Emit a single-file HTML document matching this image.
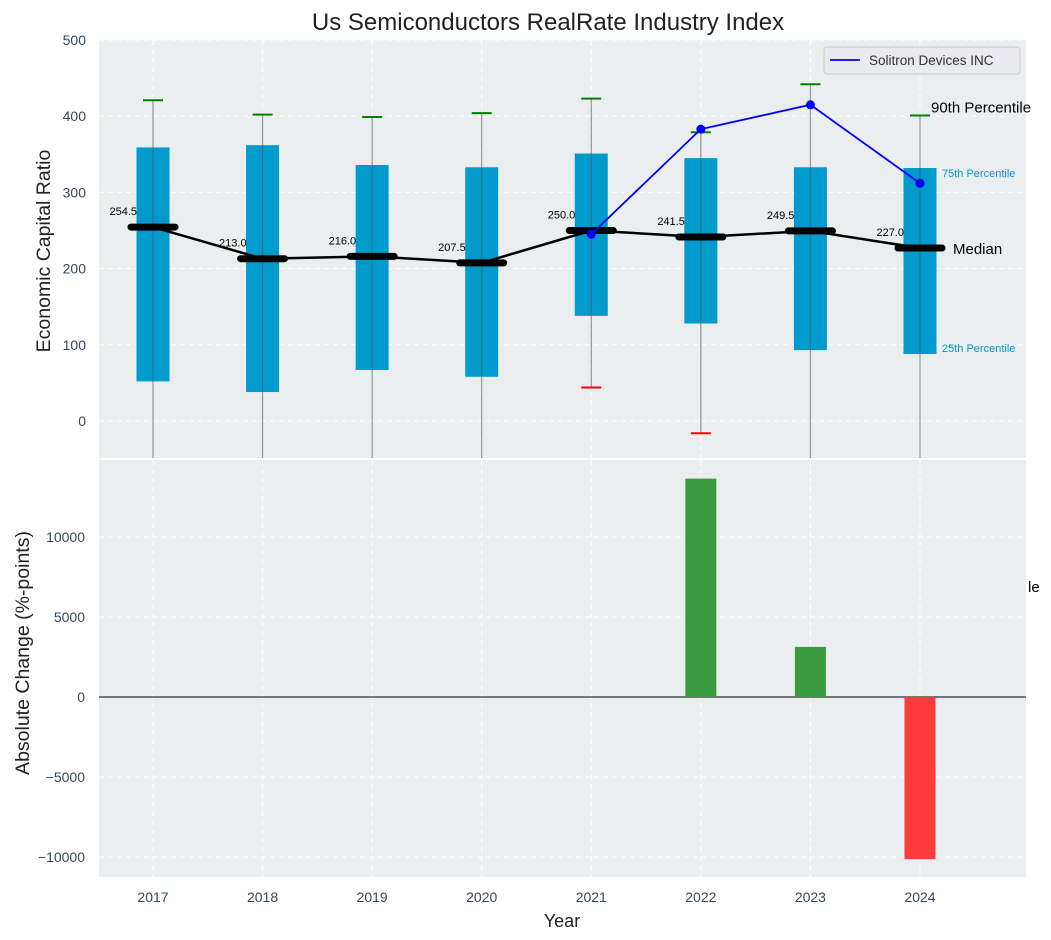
<!DOCTYPE html>
<html><head><meta charset="utf-8"><style>
body{margin:0;background:#fff;}
svg{display:block;font-family:"Liberation Sans",sans-serif;}
</style></head><body>
<svg id="c" width="1051" height="940"></svg>
<script>
const years=[2017,2018,2019,2020,2021,2022,2023,2024];
const p10=[-100,-100,-100,-100,44,-16,-100,-100];
const q25=[52,38,67,58,138,128,93,88];
const medians=[254.5,213,216,207.5,250,241.5,249.5,227];
const q75=[359,362,336,333,351,345,333,332];
const p90=[421,402,399,404,423,379,442,401];
const companyYears=[2021,2022,2023,2024];
const companyVals=[245,383,415,312];
const changeYears=[2022,2023,2024];
const changeVals=[13650,3130,-10130];
const topTicks=[0,100,200,300,400,500];
const botTicks=[-10000,-5000,0,5000,10000];

const NS='http://www.w3.org/2000/svg';
const svg=document.getElementById('c');
function el(t,a,p){const e=document.createElementNS(NS,t);for(const k in a)e.setAttribute(k,a[k]);(p||svg).appendChild(e);return e;}
function tx(s,a,p){const e=el('text',a,p);e.textContent=s;return e;}
const X0=99,X1=1026;
const x=v=>153+(v-2017)*109.57;
const yT=v=>421-v*0.762;
const yB=v=>697-v*0.016;

tx('Us Semiconductors RealRate Industry Index',{x:548,y:30,'text-anchor':'middle','font-size':24,fill:'#222',});

el('rect',{x:X0,y:40,width:X1-X0,height:418,fill:'#eaeeef',});
el('rect',{x:X0,y:460,width:X1-X0,height:417,fill:'#eaeeef',});
const clipT=el('clipPath',{id:'ct'});el('rect',{x:X0,y:40,width:X1-X0,height:418},clipT);
const gT=el('g',{'clip-path':'url(#ct)'});
const clipB=el('clipPath',{id:'cb'});el('rect',{x:X0,y:460,width:X1-X0,height:417},clipB);
const gB=el('g',{'clip-path':'url(#cb)'});

topTicks.forEach(v=>{
  el('line',{x1:X0,x2:X1,y1:yT(v),y2:yT(v),stroke:'#fff','stroke-dasharray':'5,4','stroke-width':1},gT);
  const t=tx(String(v),{x:86,y:yT(v)+5,'text-anchor':'end','font-size':14,fill:'#34495e'});
  
});
botTicks.forEach(v=>{
  el('line',{x1:X0,x2:X1,y1:yB(v),y2:yB(v),stroke:'#fff','stroke-dasharray':'5,4','stroke-width':1},gB);
  const t=tx(v<0?'\u2212'+Math.abs(v):String(v),{x:85,y:yB(v)+5,'text-anchor':'end','font-size':14,fill:'#34495e'});
  
});
years.forEach(yr=>{
  el('line',{x1:x(yr),x2:x(yr),y1:40,y2:458,stroke:'#fff','stroke-dasharray':'5,4'},gT);
  el('line',{x1:x(yr),x2:x(yr),y1:460,y2:877,stroke:'#fff','stroke-dasharray':'5,4'},gB);
  const t=tx(String(yr),{x:x(yr),y:902,'text-anchor':'middle','font-size':14,fill:'#34495e'});
  
});

years.forEach((yr,i)=>{
  const cx=x(yr);
  const b=el('rect',{x:cx-16.5,y:yT(q75[i]),width:33,height:yT(q25[i])-yT(q75[i]),fill:'#009ACD'},gT);
  
  const w=el('line',{x1:cx,x2:cx,y1:yT(p90[i]),y2:yT(p10[i]),stroke:'#555','stroke-opacity':0.6,'stroke-width':1.2},gT);
  
  el('line',{x1:cx-10,x2:cx+10,y1:yT(p90[i]),y2:yT(p90[i]),stroke:'green','stroke-width':2},gT);
  if(p10[i]>-50)el('line',{x1:cx-10,x2:cx+10,y1:yT(p10[i]),y2:yT(p10[i]),stroke:'red','stroke-width':2},gT);
});
el('polyline',{points:years.map((yr,i)=>x(yr)+','+yT(medians[i])).join(' '),fill:'none',stroke:'#000','stroke-width':2.5,},gT);
years.forEach((yr,i)=>{
  const m=el('line',{x1:x(yr)-22,x2:x(yr)+22,y1:yT(medians[i]),y2:yT(medians[i]),stroke:'#000','stroke-width':7,'stroke-linecap':'round'},gT);
  
  const t=tx(medians[i].toFixed(1),{x:x(yr)-16,y:yT(medians[i])-12,'text-anchor':'end','font-size':11,fill:'#000'});
  
});
el('polyline',{points:companyYears.map((yr,i)=>x(yr)+','+yT(companyVals[i])).join(' '),fill:'none',stroke:'blue','stroke-width':1.8,},gT);
companyYears.forEach((yr,i)=>{
  const c=el('circle',{cx:x(yr),cy:yT(companyVals[i]),r:4.5,fill:'blue'},gT);
  
});
const last=years.length-1;
tx('90th Percentile',{x:931,y:yT(p90[last])-3,'font-size':15,fill:'#000',});
tx('75th Percentile',{x:942,y:yT(q75[last])+9,'font-size':11,fill:'#009ACD',});
tx('25th Percentile',{x:942,y:yT(q25[last])-2,'font-size':11,fill:'#009ACD',});
tx('Median',{x:953,y:yT(medians[last])+6,'font-size':15,fill:'#000',});
tx('le',{x:1028,y:592,'font-size':15,fill:'#000',});

el('rect',{x:824,y:47,width:196,height:27,rx:3,fill:'#eaeaf0',stroke:'#ccc',});
el('line',{x1:830,x2:860,y1:60,y2:60,stroke:'blue','stroke-width':1.8});
tx('Solitron Devices INC',{x:869,y:65,'font-size':13.5,fill:'#333',});

el('line',{x1:X0,x2:X1,y1:yB(0),y2:yB(0),stroke:'#000','stroke-width':1,},gB);
changeYears.forEach((yr,i)=>{
  const v=changeVals[i];
  const r=el('rect',{x:x(yr)-15.5,y:Math.min(yB(v),yB(0)),width:31,height:Math.abs(yB(v)-yB(0)),fill:v>=0?'#3a9a3e':'#ff3b3b'},gB);
  
});

tx('Economic Capital Ratio',{transform:'translate(50,251) rotate(-90)','text-anchor':'middle','font-size':19.5,fill:'#222',});
tx('Absolute Change (%-points)',{transform:'translate(29,653) rotate(-90)','text-anchor':'middle','font-size':19.5,fill:'#222',});
tx('Year',{x:562,y:927,'text-anchor':'middle','font-size':18,fill:'#222',});
</script>
</body></html>
